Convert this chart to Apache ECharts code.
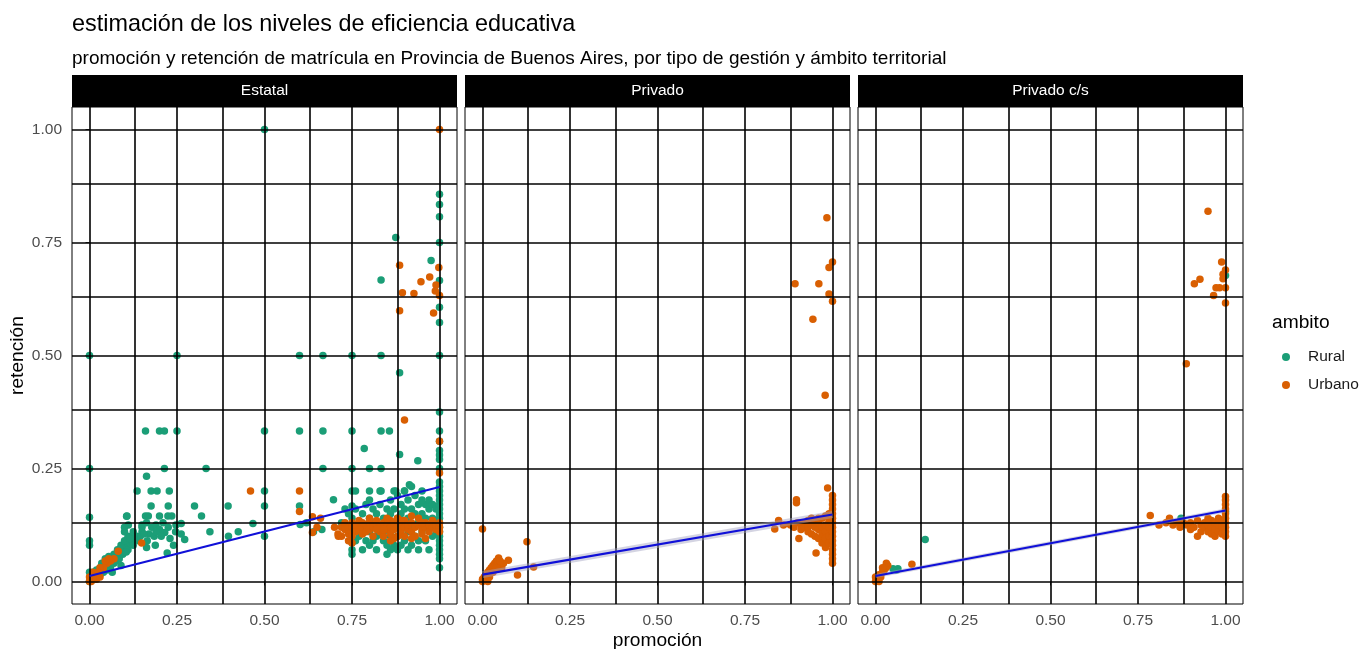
<!DOCTYPE html>
<html>
<head>
<meta charset="utf-8">
<script src="https://cdn.jsdelivr.net/npm/echarts@6/dist/echarts.min.js"></script>
<style>
  html, body { margin: 0; padding: 0; background: #ffffff; }
  #chart { width: 1366px; height: 649px; }
</style>
</head>
<body>
<div id="chart"></div>
<script>
// Facets, colour groups and axis breaks
const panels = ['Estatal', 'Privado', 'Privado c/s'];
const ambitos = ['Rural', 'Urbano'];
const tickValues = [0, 0.25, 0.5, 0.75, 1];
const tickLabels = ['0.00', '0.25', '0.50', '0.75', '1.00'];
const minorBreaks = [0.125, 0.375, 0.625, 0.875];

// [promoción, retención] per school, Estatal
const estatalRural = [
  [0.5,1.0],[1,0.857],[1,0.834],[1,0.807],[1,0.75],[1,0.666],[1,0.607],[1,0.573],[1,0.5],
  [0.875,0.761],[0.976,0.71],[0.833,0.667],
  [0,0.5],[0.25,0.5],[0.6,0.5],[0.667,0.5],[0.75,0.5],[0.833,0.5],[0.886,0.462],[1,0.375],
  [0.16,0.333],[0.2,0.333],[0.214,0.333],[0.25,0.333],[0.5,0.333],[0.6,0.333],[0.667,0.333],[0.75,0.333],[0.833,0.333],[0.857,0.333],[1,0.333],
  [0.785,0.294],[0.886,0.281],[0.938,0.267],
  [0,0.25],[0.214,0.25],[0.333,0.25],[0.667,0.25],[0.75,0.25],[0.8,0.25],[0.833,0.25],[1,0.25],
  [0.163,0.233],[0.914,0.214],
  [0.136,0.2],[0.176,0.2],[0.193,0.2],[0.228,0.2],[0.5,0.2],[0.75,0.2],[0.8,0.2],[0.833,0.2],[0.875,0.2],[0.9,0.2],
  [0.176,0.167],[0.225,0.167],[0.3,0.167],[0.396,0.167],[0.5,0.167],[0.6,0.167],[0.75,0.167],[0.697,0.181],
  [0,0.142],[0.107,0.145],[0.16,0.145],[0.168,0.145],[0.2,0.145],[0.224,0.145],[0.235,0.145],[0.32,0.145],
  [0.111,0.125],[0.15,0.125],[0.163,0.13],[0.178,0.12],[0.19,0.125],[0.21,0.13],[0.225,0.12],[0.247,0.125],[0.262,0.128],[0.467,0.128],
  [0.15,0.11],[0.17,0.105],[0.2,0.115],[0.215,0.108],[0.246,0.11],[0.262,0.105],[0.344,0.11],[0.397,0.1],[0.425,0.11],[0.5,0.1],
  [0.272,0.093],[0.222,0.063],[0.163,0.075],[0.188,0.08],[0,0.09],[0,0.08],
  [0.602,0.126],[0.62,0.13],[0.64,0.11],[0.664,0.115],[0.75,0.086],[0.75,0.07],
  [0.005,0.01],[0.01,0.02],[0.015,0.015],[0.02,0.025],[0.025,0.02],[0.03,0.03],[0.035,0.025],[0.04,0.035],[0.045,0.03],[0.05,0.04],
  [0.055,0.035],[0.06,0.045],[0.065,0.05],[0.07,0.04],[0.075,0.055],[0.08,0.05],[0.085,0.06],[0.09,0.065],[0.095,0.07],[0.1,0.075],
  [0.105,0.08],[0.11,0.07],[0.115,0.085],[0.12,0.09],[0.125,0.08],[0.13,0.095],[0.14,0.09],[0.145,0.1],[0.06,0.03],[0.07,0.06],
  [0.08,0.07],[0.09,0.08],[0.1,0.09],[0.11,0.1],[0.12,0.1],[0.035,0.04],[0.045,0.05],[0.055,0.055],[0.075,0.045],[0.085,0.05],
  [0.095,0.06],[0.105,0.065],[0.115,0.095],[0.125,0.11],[0.135,0.1],[0.155,0.105],[0.165,0.09],[0.185,0.1],[0.0,0.0],[0.0,0.02],
  [0.01,0.005],[0.02,0.01],[0.03,0.015],[0.04,0.02],[0.05,0.025],[0.065,0.02],[0.09,0.035],[0.15,0.12],[0.19,0.11],[0.205,0.1],
  [0.23,0.095],[0.24,0.08],[0.1,0.11],[0.106,0.144],[0.1,0.12],
  [0.72,0.13],[0.73,0.12],[0.74,0.15],[0.75,0.14],[0.75,0.11],[0.76,0.16],[0.76,0.09],[0.77,0.13],[0.77,0.1],[0.78,0.15],
  [0.78,0.12],[0.79,0.09],[0.79,0.17],[0.8,0.14],[0.8,0.11],[0.8,0.08],[0.81,0.16],[0.81,0.13],[0.82,0.1],[0.82,0.07],
  [0.82,0.15],[0.83,0.12],[0.83,0.17],[0.84,0.09],[0.84,0.14],[0.84,0.11],[0.85,0.16],[0.85,0.08],[0.85,0.13],[0.86,0.1],
  [0.86,0.15],[0.86,0.18],[0.87,0.12],[0.87,0.08],[0.87,0.16],[0.88,0.14],[0.88,0.1],[0.88,0.07],[0.89,0.17],[0.89,0.12],
  [0.89,0.15],[0.9,0.09],[0.9,0.13],[0.9,0.16],[0.91,0.11],[0.91,0.18],[0.91,0.14],[0.92,0.08],[0.92,0.16],[0.92,0.12],
  [0.93,0.15],[0.93,0.1],[0.93,0.19],[0.94,0.13],[0.94,0.07],[0.94,0.17],[0.95,0.11],[0.95,0.15],[0.95,0.2],[0.96,0.09],
  [0.96,0.14],[0.96,0.17],[0.97,0.12],[0.97,0.16],[0.97,0.18],[0.98,0.1],[0.98,0.14],[0.98,0.17],[0.99,0.13],[0.99,0.11],
  [0.99,0.16],[0.73,0.16],[0.75,0.06],[0.76,0.2],[0.83,0.2],[0.87,0.2],[0.9,0.2],[0.92,0.21],[0.95,0.18],[0.8,0.18],
  [0.85,0.06],[0.88,0.19],[0.91,0.07],[0.94,0.09],[0.97,0.07],[0.86,0.07],[0.89,0.08],[0.78,0.07],[0.81,0.09],
  [1,0.03],[1,0.05],[1,0.06],[1,0.07],[1,0.08],[1,0.09],[1,0.1],[1,0.11],[1,0.12],[1,0.13],[1,0.14],[1,0.15],[1,0.16],
  [1,0.17],[1,0.18],[1,0.19],[1,0.2],[1,0.21],[1,0.22],[1,0.27],[1,0.28],[1,0.29],[1,0.31]
];
const estatalUrbano = [
  [1,1.0],[0.886,0.7],[0.894,0.639],[0.927,0.637],[0.947,0.663],[0.972,0.674],[0.998,0.695],[0.99,0.656],[0.988,0.643],[1,0.633],
  [0.886,0.599],[0.983,0.594],[0.9,0.357],[0.46,0.2],[0.6,0.2],[0.6,0.155],[1,0.31],[1,0.24],
  [0.637,0.143],[0.637,0.108],[0.711,0.1],[0.75,0.085],
  [0.149,0.085],[0.082,0.067],[0.07,0.05],[0.06,0.045],[0.05,0.04],[0.04,0.03],[0.03,0.03],[0.025,0.02],[0.02,0.015],[0.015,0.01],
  [0.01,0.005],[0.005,0.0],[0,0.0],[0,0.01],[0.01,0.02],[0.02,0.005],[0.03,0.01],[0.045,0.045],[0.055,0.05],
  [0.72,0.12],[0.72,0.1],[0.73,0.13],[0.73,0.115],[0.74,0.12],[0.74,0.105],[0.75,0.13],[0.75,0.12],[0.76,0.11],[0.76,0.125],
  [0.77,0.115],[0.77,0.135],[0.78,0.12],[0.78,0.105],[0.79,0.125],[0.79,0.11],[0.8,0.13],[0.8,0.115],[0.81,0.12],[0.81,0.1],
  [0.82,0.125],[0.82,0.135],[0.83,0.11],[0.83,0.12],[0.84,0.13],[0.84,0.1],[0.85,0.115],[0.85,0.125],[0.86,0.12],[0.86,0.135],
  [0.86,0.105],[0.87,0.115],[0.87,0.13],[0.88,0.12],[0.88,0.1],[0.88,0.14],[0.89,0.125],[0.89,0.11],[0.9,0.12],[0.9,0.135],
  [0.9,0.1],[0.91,0.115],[0.91,0.125],[0.92,0.13],[0.92,0.11],[0.93,0.12],[0.93,0.1],[0.94,0.125],[0.94,0.14],[0.95,0.115],
  [0.95,0.105],[0.96,0.12],[0.96,0.13],[0.97,0.11],[0.97,0.125],[0.98,0.12],[0.98,0.135],[0.99,0.115],[0.99,0.125],[1,0.12],
  [1,0.13],[1,0.11],[0.75,0.1],[0.8,0.14],[0.85,0.14],[0.87,0.095],[0.92,0.095],[0.96,0.095],[0.84,0.115],[0.82,0.115],
  [0.89,0.135],[0.95,0.13],[0.78,0.13],[0.74,0.09],[0.71,0.105],[0.7,0.12],[0.65,0.12],[0.66,0.14],[0.92,0.145],[0.86,0.09]
];

// Privado
const privadoRural = [];
const privadoUrbano = [
  [0.984,0.805],[1,0.707],[0.99,0.695],[0.893,0.659],[0.961,0.659],[0.99,0.636],[1,0.62],[0.944,0.58],[0.979,0.412],[0.986,0.207],
  [0.897,0.181],[0.897,0.174],[0.846,0.135],[0.835,0.116],[0.904,0.095],[0.953,0.063],[0.978,0.085],
  [0.88,0.125],[0.89,0.12],[0.9,0.13],[0.91,0.125],[0.91,0.115],[0.92,0.13],[0.92,0.12],[0.93,0.135],[0.93,0.11],[0.93,0.12],
  [0.94,0.125],[0.94,0.105],[0.94,0.14],[0.95,0.12],[0.95,0.1],[0.95,0.135],[0.96,0.115],[0.96,0.13],[0.96,0.095],[0.96,0.14],
  [0.97,0.12],[0.97,0.105],[0.97,0.085],[0.97,0.14],[0.98,0.125],[0.98,0.11],[0.98,0.095],[0.98,0.075],[0.98,0.145],[0.99,0.12],
  [0.99,0.1],[0.99,0.135],[0.99,0.085],[0.99,0.15],[1,0.04],[1,0.05],[1,0.06],[1,0.07],[1,0.08],[1,0.09],[1,0.1],[1,0.11],
  [1,0.12],[1,0.13],[1,0.14],[1,0.15],[1,0.16],[1,0.17],[1,0.18],[1,0.19],[0.86,0.125],
  [0,0.116],[0.127,0.088],[0.074,0.047],[0.1,0.014],[0.046,0.052],[0.146,0.032],[0,0.005],[0.005,0.01],[0.01,0.015],[0.015,0.02],
  [0.02,0.025],[0.025,0.03],[0.03,0.035],[0.035,0.04],[0.04,0.045],[0.045,0.04],[0.05,0.035],[0.03,0.02],[0.02,0.01],[0.01,0.005],
  [0.055,0.03],[0.06,0.04],[0.0,0.0],[0.04,0.03],[0.05,0.045],[0.015,0.0]
];

// Privado c/s
const privadoCsRural = [
  [0.142,0.093],[0.05,0.028],[0.064,0.028],[0.06,0.025],[1,0.677],[0.873,0.14],[1,0.155]
];
const privadoCsUrbano = [
  [0.95,0.819],[0.989,0.707],[1,0.689],[0.993,0.68],[0.993,0.67],[0.911,0.659],[0.927,0.669],[0.973,0.65],[0.983,0.65],[1,0.65],
  [0.966,0.633],[1,0.616],[0.888,0.482],
  [0.785,0.146],[0.81,0.125],[0.83,0.13],[0.84,0.14],[0.85,0.125],[0.86,0.13],[0.87,0.12],[0.88,0.13],[0.89,0.125],[0.9,0.13],
  [0.91,0.12],[0.92,0.135],[0.93,0.125],[0.93,0.11],[0.94,0.13],[0.94,0.12],[0.95,0.125],[0.95,0.11],[0.96,0.135],[0.96,0.12],
  [0.96,0.105],[0.97,0.13],[0.97,0.115],[0.97,0.1],[0.98,0.125],[0.98,0.11],[0.98,0.14],[0.99,0.12],[0.99,0.105],[0.99,0.135],
  [1,0.1],[1,0.11],[1,0.12],[1,0.13],[1,0.14],[1,0.15],[1,0.16],[1,0.17],[1,0.188],[1,0.18],[0.92,0.1],[0.95,0.14],[0.9,0.115],
  [0,0.0],[0,0.01],[0.005,0.005],[0.01,0.015],[0.015,0.01],[0.02,0.02],[0.025,0.025],[0.03,0.03],[0.035,0.035],[0.031,0.04],
  [0.104,0.038],[0.02,0.03],[0.01,0.0]
];

// Linear fit per facet (endpoints at promoción 0 and 1)
const fitEstatal = [[0, 0.012], [1, 0.209]];
const fitPrivado = [[0, 0.015], [1, 0.148]];
const fitPrivadoCs = [[0, 0.012], [1, 0.157]];

const pointsByPanel = [
  [estatalRural, estatalUrbano],
  [privadoRural, privadoUrbano],
  [privadoCsRural, privadoCsUrbano]
];
const fits = [fitEstatal, fitPrivado, fitPrivadoCs];
const bandWidths = [0, 7, 4];

const colors = { Rural: '#1b9e77', Urbano: '#d95f02' };
const FONT = '"Liberation Sans", Arial, sans-serif';
const SMALL = 15.5;
const MEDIUM = 19.2;

const panelLeft = [72, 465, 858];
const panelWidth = 385;
const panelTop = 107;
const panelHeight = 497;
const stripHeight = 32;

const grids = panelLeft.map(l => ({
  left: l, top: panelTop, width: panelWidth, height: panelHeight,
  show: true, borderColor: '#000', borderWidth: 1, backgroundColor: '#fff'
}));

function makeAxis(i, isY) {
  const showLabels = !isY || i === 0;
  return {
    type: 'value', gridIndex: i, min: -0.05, max: 1.05,
    minInterval: 0.25, maxInterval: 0.25,
    axisLine: { show: false },
    axisTick: {
      show: showLabels, customValues: tickValues, length: 4,
      lineStyle: { color: '#333', width: 1 }
    },
    axisLabel: {
      show: showLabels, customValues: tickValues,
      formatter: v => tickLabels[tickValues.indexOf(v)] ?? '',
      color: '#4d4d4d', fontSize: SMALL, fontFamily: FONT, margin: isY ? 10 : 9
    },
    splitLine: { show: false }
  };
}

const series = [];
panels.forEach((p, i) => {
  // panel grid lines
  const lines = [];
  tickValues.forEach(v => { lines.push({ xAxis: v }); lines.push({ yAxis: v }); });
  minorBreaks.forEach(v => { lines.push({ xAxis: v }); lines.push({ yAxis: v }); });
  series.push({
    type: 'line', xAxisIndex: i, yAxisIndex: i, data: [], z: 1, silent: true,
    markLine: {
      silent: true, symbol: 'none', label: { show: false },
      lineStyle: { color: '#000', width: 1.6, type: 'solid', opacity: 1 },
      emphasis: { disabled: true },
      data: lines
    }
  });
  ambitos.forEach((a, k) => {
    series.push({
      type: 'scatter', name: a, xAxisIndex: i, yAxisIndex: i,
      data: pointsByPanel[i][k], symbolSize: 7.5, z: 3 + k,
      itemStyle: { color: colors[a], opacity: 1 }
    });
  });
  if (bandWidths[i] > 0) {
    series.push({
      type: 'line', xAxisIndex: i, yAxisIndex: i, data: fits[i], z: 5,
      showSymbol: false, silent: true,
      lineStyle: { color: 'rgba(160,160,190,0.45)', width: bandWidths[i] }
    });
  }
  series.push({
    type: 'line', xAxisIndex: i, yAxisIndex: i, data: fits[i], z: 6,
    showSymbol: false, silent: true,
    lineStyle: { color: '#1010d8', width: 2.2 }
  });
});

const graphics = [];
panels.forEach((p, i) => {
  graphics.push({
    type: 'rect', left: panelLeft[i], top: panelTop - stripHeight,
    shape: { width: panelWidth, height: stripHeight },
    style: { fill: '#000' }
  });
  graphics.push({
    type: 'text', x: panelLeft[i] + panelWidth / 2, y: panelTop - stripHeight / 2,
    style: { text: p, fill: '#fff', font: SMALL + 'px ' + FONT, textAlign: 'center', textVerticalAlign: 'middle' }
  });
});
graphics.push({
  type: 'text', x: 18, y: panelTop + panelHeight / 2, rotation: Math.PI / 2,
  style: { text: 'retención', fill: '#000', font: MEDIUM + 'px ' + FONT, textAlign: 'center', textVerticalAlign: 'middle' }
});
graphics.push({
  type: 'text', x: (panelLeft[0] + panelLeft[2] + panelWidth) / 2, y: 641,
  style: { text: 'promoción', fill: '#000', font: MEDIUM + 'px ' + FONT, textAlign: 'center', textVerticalAlign: 'middle' }
});

const chart = echarts.init(document.getElementById('chart'), null, { renderer: 'canvas' });
chart.setOption({
  animation: false,
  backgroundColor: '#fff',
  title: [
    { text: 'estimación de los niveles de eficiencia educativa', left: 67, top: 8,
      textStyle: { fontSize: 23.4, fontWeight: 'normal', color: '#000', fontFamily: FONT } },
    { text: 'promoción y retención de matrícula en Provincia de Buenos Aires, por tipo de gestión y ámbito territorial',
      left: 67, top: 44, textStyle: { fontSize: 19, fontWeight: 'normal', color: '#000', fontFamily: FONT } },
    { text: 'ambito', left: 1267, top: 308,
      textStyle: { fontSize: MEDIUM, fontWeight: 'normal', color: '#000', fontFamily: FONT } }
  ],
  legend: {
    data: ambitos, orient: 'vertical', left: 1277, top: 344,
    icon: 'circle', itemWidth: 34, itemHeight: 8, itemGap: 12,
    selectedMode: false,
    textStyle: { fontSize: SMALL, color: '#1a1a1a', fontFamily: FONT }
  },
  grid: grids,
  xAxis: panels.map((p, i) => makeAxis(i, false)),
  yAxis: panels.map((p, i) => makeAxis(i, true)),
  series: series,
  graphic: graphics
});
</script>
</body>
</html>
